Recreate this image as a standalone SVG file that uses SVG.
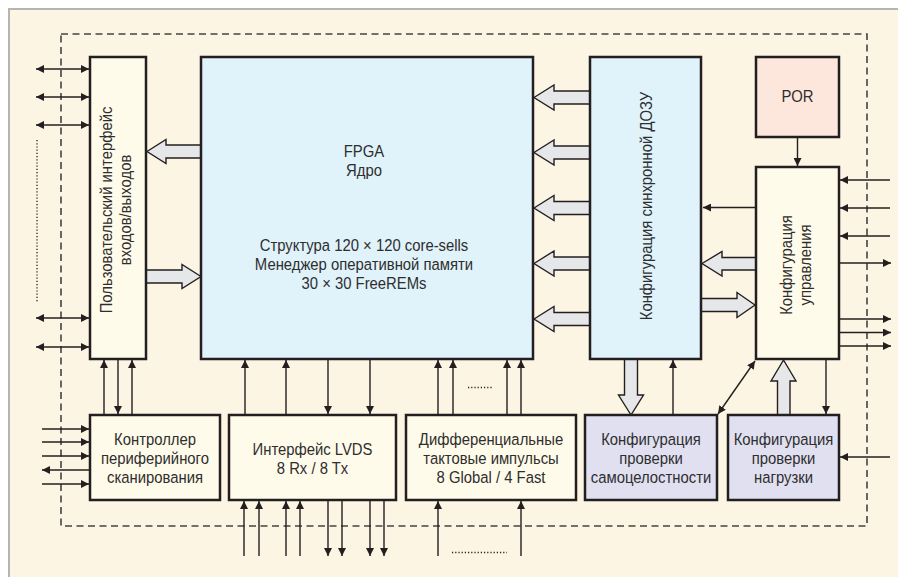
<svg xmlns="http://www.w3.org/2000/svg" width="898" height="577" viewBox="0 0 898 577">
  <style>
    .box { stroke: #231f20; stroke-width: 2.5; }
    .cream { fill: #fffbea; }
    .blue { fill: #e0f2fa; }
    .pink { fill: #fde6dc; }
    .lilac { fill: #e0e0f0; }
    .lbl { font-family: "Liberation Sans", Arial, sans-serif; font-size: 16.5px; fill: #2e2e2e; text-anchor: middle; }
    .wire { stroke: #231f20; stroke-width: 1.4; fill: none; }
    .arr { marker-end: url(#head); }
    .both { marker-start: url(#head); marker-end: url(#head); }
    .bus { fill: #e6e7e9; stroke: #231f20; stroke-width: 1.4; stroke-linejoin: miter; }
    .dots { stroke: #231f20; stroke-width: 1.3; stroke-dasharray: 1.2 2; fill: none; }
  </style>
  <defs>
    <marker id="head" viewBox="0 0 10 10" refX="10" refY="5" markerWidth="8" markerHeight="8" markerUnits="userSpaceOnUse" orient="auto-start-reverse">
      <path d="M0,0 L10,5 L0,10 Z" fill="#231f20"/>
    </marker>
  </defs>

  <!-- page background and panel -->
  <rect x="0" y="0" width="898" height="577" fill="#ffffff"/>
  <rect x="9" y="9" width="889" height="568" fill="#fdf5e3"/>
  <path d="M9,577 V9 H898" fill="none" stroke="#b5b5b5" stroke-width="2"/>

  <!-- chip boundary -->
  <rect x="61" y="34" width="806" height="492" fill="none" stroke="#444" stroke-width="1.6" stroke-dasharray="7 4.5"/>

  <!-- connectors -->
  <g id="connectors">
    <!-- user I/O pins -->
    <line class="wire both" x1="36" y1="69" x2="89" y2="69"/>
    <line class="wire both" x1="36" y1="97" x2="89" y2="97"/>
    <line class="wire both" x1="36" y1="125" x2="89" y2="125"/>
    <line class="dots" x1="37" y1="140" x2="37" y2="302"/>
    <line class="wire both" x1="36" y1="318" x2="89" y2="318"/>
    <line class="wire both" x1="36" y1="347" x2="89" y2="347"/>

    <!-- I/O box to boundary scan -->
    <line class="wire arr" x1="104" y1="415" x2="104" y2="360"/>
    <line class="wire arr" x1="118" y1="359" x2="118" y2="414"/>
    <line class="wire arr" x1="132" y1="415" x2="132" y2="360"/>

    <!-- boundary scan pins -->
    <line class="wire arr" x1="42" y1="429" x2="89" y2="429"/>
    <line class="wire arr" x1="42" y1="442" x2="89" y2="442"/>
    <line class="wire arr" x1="42" y1="456" x2="89" y2="456"/>
    <line class="wire arr" x1="90" y1="470" x2="42" y2="470"/>
    <line class="wire arr" x1="42" y1="484" x2="89" y2="484"/>

    <!-- LVDS and clocks to core -->
    <line class="wire arr" x1="245" y1="415" x2="245" y2="360"/>
    <line class="wire arr" x1="286" y1="415" x2="286" y2="360"/>
    <line class="wire arr" x1="328" y1="359" x2="328" y2="414"/>
    <line class="wire arr" x1="370" y1="359" x2="370" y2="414"/>
    <line class="wire arr" x1="438" y1="415" x2="438" y2="360"/>
    <line class="wire arr" x1="453" y1="415" x2="453" y2="360"/>
    <line class="wire arr" x1="507" y1="415" x2="507" y2="360"/>
    <line class="wire arr" x1="521" y1="415" x2="521" y2="360"/>
    <line class="dots" x1="468" y1="387.5" x2="493" y2="387.5"/>

    <!-- LVDS pins -->
    <line class="wire arr" x1="244" y1="556" x2="244" y2="501"/>
    <line class="wire arr" x1="259" y1="556" x2="259" y2="501"/>
    <line class="wire arr" x1="286" y1="556" x2="286" y2="501"/>
    <line class="wire arr" x1="300" y1="556" x2="300" y2="501"/>
    <line class="wire arr" x1="328" y1="500" x2="328" y2="556"/>
    <line class="wire arr" x1="342" y1="500" x2="342" y2="556"/>
    <line class="wire arr" x1="370" y1="500" x2="370" y2="556"/>
    <line class="wire arr" x1="384" y1="500" x2="384" y2="556"/>

    <!-- clock pins -->
    <line class="wire arr" x1="438" y1="556" x2="438" y2="501"/>
    <line class="wire arr" x1="521" y1="556" x2="521" y2="501"/>
    <line class="dots" x1="452" y1="552.5" x2="507" y2="552.5"/>

    <!-- wide buses -->
    <path class="bus" d="M147,151.5 L166,139.5 L166,145 L201,145 L201,158 L166,158 L166,163.5 Z"/>
    <path class="bus" d="M201,276.5 L182,264.5 L182,270 L146,270 L146,283 L182,283 L182,288.5 Z"/>
    <path class="bus" d="M534,97.5 L554,85 L554,91 L590,91 L590,104 L554,104 L554,110 Z"/>
    <path class="bus" d="M534,152.5 L554,140 L554,146 L590,146 L590,159 L554,159 L554,165 Z"/>
    <path class="bus" d="M534,208 L554,195.5 L554,201.5 L590,201.5 L590,214.5 L554,214.5 L554,220.5 Z"/>
    <path class="bus" d="M534,263.5 L554,251 L554,257 L590,257 L590,270 L554,270 L554,276 Z"/>
    <path class="bus" d="M534,319 L554,306.5 L554,312.5 L590,312.5 L590,325.5 L554,325.5 L554,331.5 Z"/>
    <path class="bus" d="M702,263.5 L722,251.5 L722,257.5 L756,257.5 L756,270 L722,270 L722,276 Z"/>
    <path class="bus" d="M755,305 L737,292.5 L737,298.5 L701,298.5 L701,311.5 L737,311.5 L737,317.5 Z"/>
    <path class="bus" d="M631,415 L618.5,395 L624.5,395 L624.5,359 L637.5,359 L637.5,395 L643.5,395 Z"/>
    <path class="bus" d="M783.5,360 L771,381 L777.5,381 L777.5,415 L790,415 L790,381 L796,381 Z"/>

    <!-- configuration control wiring -->
    <line class="wire arr" x1="756" y1="207.5" x2="703" y2="207.5"/>
    <line class="wire arr" x1="797.5" y1="137" x2="797.5" y2="166"/>
    <line class="wire arr" x1="890" y1="180" x2="840" y2="180"/>
    <line class="wire arr" x1="890" y1="208" x2="840" y2="208"/>
    <line class="wire arr" x1="890" y1="236" x2="840" y2="236"/>
    <line class="wire arr" x1="839" y1="263" x2="891" y2="263"/>
    <line class="wire arr" x1="839" y1="319" x2="891" y2="319"/>
    <line class="wire arr" x1="839" y1="332.5" x2="891" y2="332.5"/>
    <line class="wire arr" x1="839" y1="346" x2="891" y2="346"/>
    <line class="wire arr" x1="673" y1="415" x2="673" y2="360"/>
    <line class="wire both" x1="755" y1="361" x2="718" y2="414"/>
    <line class="wire arr" x1="826" y1="359" x2="826" y2="414"/>
    <line class="wire arr" x1="890" y1="457" x2="840" y2="457"/>
  </g>

  <!-- nodes; labels use a narrowed sans face -->
  <g id="user-io">
    <rect class="box cream" x="90" y="57" width="56" height="302"/>
    <text class="lbl" transform="translate(112,210) rotate(-90) scale(0.9,1)">Пользовательский интерфейс</text>
    <text class="lbl" transform="translate(131,210) rotate(-90) scale(0.9,1)">входов/выходов</text>
  </g>

  <g id="fpga-core">
    <rect class="box blue" x="201" y="57" width="332" height="302"/>
    <text class="lbl" transform="translate(364,157) scale(0.9,1)">FPGA</text>
    <text class="lbl" transform="translate(364,176) scale(0.9,1)">Ядро</text>
    <text class="lbl" transform="translate(364,251) scale(0.9,1)">Структура 120 × 120 core-sells</text>
    <text class="lbl" transform="translate(364,270) scale(0.9,1)">Менеджер оперативной памяти</text>
    <text class="lbl" transform="translate(364,289) scale(0.9,1)">30 × 30 FreeREMs</text>
  </g>

  <g id="sdram-config">
    <rect class="box blue" x="590" y="57" width="111" height="302"/>
    <text class="lbl" transform="translate(652,206) rotate(-90) scale(0.9,1)">Конфигурация синхронной ДОЗУ</text>
  </g>

  <g id="por">
    <rect class="box pink" x="756" y="57" width="83" height="80"/>
    <text class="lbl" transform="translate(797.5,102) scale(0.9,1)">POR</text>
  </g>

  <g id="config-control">
    <rect class="box cream" x="756" y="167" width="83" height="192"/>
    <text class="lbl" transform="translate(792,265) rotate(-90) scale(0.9,1)">Конфигурация</text>
    <text class="lbl" transform="translate(811,265) rotate(-90) scale(0.9,1)">управления</text>
  </g>

  <g id="boundary-scan">
    <rect class="box cream" x="90" y="415" width="130" height="85"/>
    <text class="lbl" transform="translate(155,445) scale(0.9,1)">Контроллер</text>
    <text class="lbl" transform="translate(155,464) scale(0.9,1)">периферийного</text>
    <text class="lbl" transform="translate(155,483) scale(0.9,1)">сканирования</text>
  </g>

  <g id="lvds">
    <rect class="box cream" x="229" y="415" width="167" height="85"/>
    <text class="lbl" transform="translate(312.5,455) scale(0.9,1)">Интерфейс LVDS</text>
    <text class="lbl" transform="translate(312.5,474) scale(0.9,1)">8 Rx / 8 Tx</text>
  </g>

  <g id="diff-clocks">
    <rect class="box cream" x="406" y="415" width="170" height="85"/>
    <text class="lbl" transform="translate(491,445) scale(0.9,1)">Дифференциальные</text>
    <text class="lbl" transform="translate(491,464) scale(0.9,1)">тактовые импульсы</text>
    <text class="lbl" transform="translate(491,483) scale(0.9,1)">8 Global / 4 Fast</text>
  </g>

  <g id="self-test">
    <rect class="box lilac" x="585" y="415" width="132" height="85"/>
    <text class="lbl" transform="translate(651,445) scale(0.9,1)">Конфигурация</text>
    <text class="lbl" transform="translate(651,464) scale(0.9,1)">проверки</text>
    <text class="lbl" transform="translate(651,483) scale(0.9,1)">самоцелостности</text>
  </g>

  <g id="load-check">
    <rect class="box lilac" x="728" y="415" width="111" height="85"/>
    <text class="lbl" transform="translate(783.5,445) scale(0.9,1)">Конфигурация</text>
    <text class="lbl" transform="translate(783.5,464) scale(0.9,1)">проверки</text>
    <text class="lbl" transform="translate(783.5,483) scale(0.9,1)">нагрузки</text>
  </g>
</svg>
